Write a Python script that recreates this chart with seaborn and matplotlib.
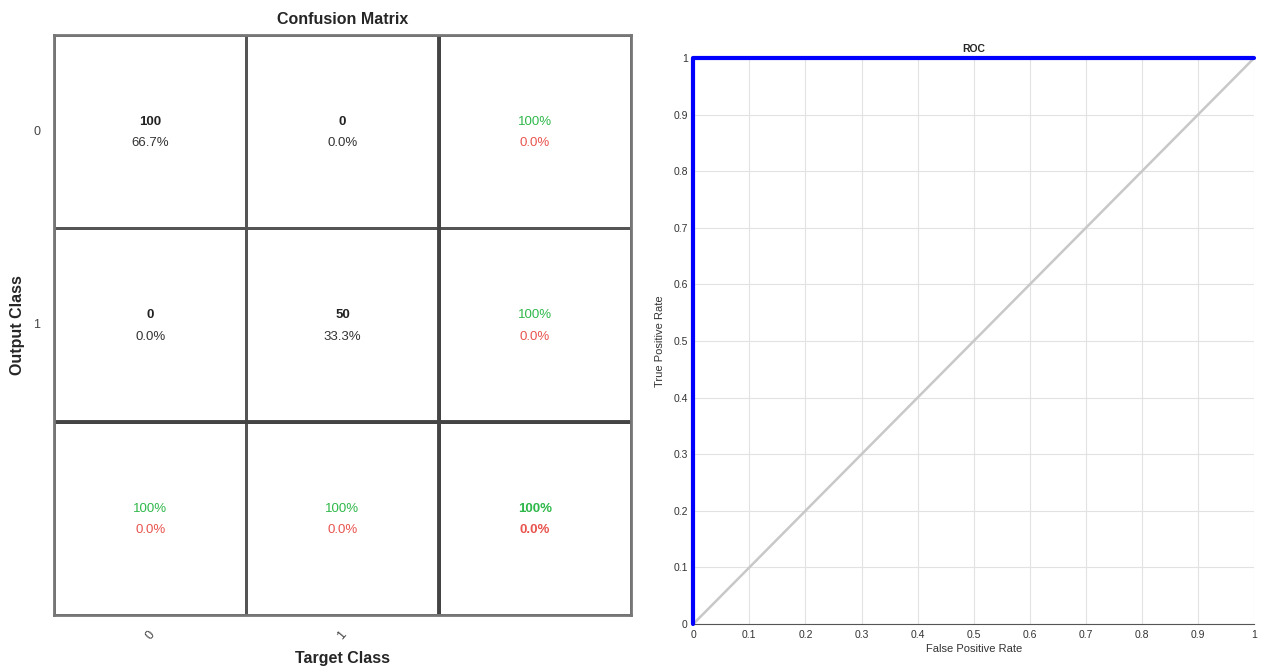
import numpy as np
import matplotlib
matplotlib.use('Agg')
import matplotlib.pyplot as plt
import seaborn as sns
from matplotlib.colors import ListedColormap

# dados do classificador
class_labels = ['0', '1']
counts = np.array([[100, 0],
                   [0, 50]])
row_correct = ['100%', '100%']
row_wrong = ['0.0%', '0.0%']
col_correct = ['100%', '100%']
col_wrong = ['0.0%', '0.0%']
total_correct = '100%'
total_wrong = '0.0%'

fpr = [0.0, 0.0, 1.0]
tpr = [0.0, 1.0, 1.0]
chance = [0.0, 1.0]

GREEN = '#2fb84a'
RED = '#e8544e'
Y1, Y2 = 0.45, 0.56  # posição das duas linhas de texto dentro da célula

sns.set_style('white')
plt.rcParams['font.family'] = ['Liberation Sans', 'DejaVu Sans']

fig = plt.figure(figsize=(12.72, 6.71), dpi=100)
ax_cm = fig.add_axes([0.0425, 0.083, 0.4535, 0.865])
ax_roc = fig.add_axes([0.545, 0.070, 0.441, 0.8436])

# ---- matriz de confusão ----
grid = np.zeros((3, 3))
sns.heatmap(grid, ax=ax_cm, cmap=ListedColormap(['white']), cbar=False,
            linewidths=1.8, linecolor='#555555', square=False)
ax_cm.axhline(2, color='#444444', lw=2.8)
ax_cm.axvline(2, color='#444444', lw=2.8)
for s in ax_cm.spines.values():
    s.set_visible(True)
    s.set_color('#777777')
    s.set_linewidth(2)

total = counts.sum()
kw = dict(ha='center', va='center', fontsize=9.5)
for i in range(2):
    for j in range(2):
        ax_cm.text(j + 0.5, i + Y1, f'{counts[i, j]}', fontweight='bold', color='#222222', **kw)
        ax_cm.text(j + 0.5, i + Y2, f'{100 * counts[i, j] / total:.1f}%', color='#333333', **kw)
    ax_cm.text(2.5, i + Y1, row_correct[i], color=GREEN, **kw)
    ax_cm.text(2.5, i + Y2, row_wrong[i], color=RED, **kw)
    ax_cm.text(i + 0.5, 2 + Y1, col_correct[i], color=GREEN, **kw)
    ax_cm.text(i + 0.5, 2 + Y2, col_wrong[i], color=RED, **kw)
ax_cm.text(2.5, 2 + Y1, total_correct, fontweight='bold', color=GREEN, **kw)
ax_cm.text(2.5, 2 + Y2, total_wrong, fontweight='bold', color=RED, **kw)

ax_cm.set_xticks([0.5, 1.5])
ax_cm.set_xticklabels(class_labels, rotation=50, fontsize=9, color='#444444')
ax_cm.set_yticks([0.5, 1.5])
ax_cm.set_yticklabels(class_labels, rotation=0, fontsize=9, color='#444444')
ax_cm.tick_params(length=0, pad=10)
ax_cm.set_title('Confusion Matrix', fontsize=11.5, fontweight='bold', pad=8)
ax_cm.set_xlabel('Target Class', fontsize=11.5, fontweight='bold', labelpad=6)
ax_cm.set_ylabel('Output Class', fontsize=11.5, fontweight='bold', labelpad=6)

# ---- curva ROC ----
sns.lineplot(x=chance, y=chance, ax=ax_roc, color='#c8c8c8', lw=1.8)
sns.lineplot(x=fpr, y=tpr, ax=ax_roc, color='#0000ff', lw=3, sort=False,
             estimator=None, clip_on=False, zorder=5)
ax_roc.set_xlim(0, 1)
ax_roc.set_ylim(0, 1)
ticks = np.round(np.arange(0, 1.01, 0.1), 1)
ax_roc.set_xticks(ticks)
ax_roc.set_yticks(ticks)
ax_roc.set_xticklabels(['0'] + [f'{t:g}' for t in ticks[1:]], fontsize=7.5, color='#333333')
ax_roc.set_yticklabels(['0'] + [f'{t:g}' for t in ticks[1:]], fontsize=7.5, color='#333333')
ax_roc.grid(True, color='#e2e2e2', lw=0.8)
ax_roc.tick_params(direction='in', length=3, width=1, colors='#333333', pad=4)
for side in ['top', 'right']:
    ax_roc.spines[side].set_visible(False)
for side in ['left', 'bottom']:
    ax_roc.spines[side].set_color('#555555')
ax_roc.set_title('ROC', fontsize=7.5, fontweight='bold', pad=4)
ax_roc.set_xlabel('False Positive Rate', fontsize=8, color='#333333', labelpad=3)
ax_roc.set_ylabel('True Positive Rate', fontsize=8, color='#333333', labelpad=6)

fig.savefig('out.png', dpi=100)
